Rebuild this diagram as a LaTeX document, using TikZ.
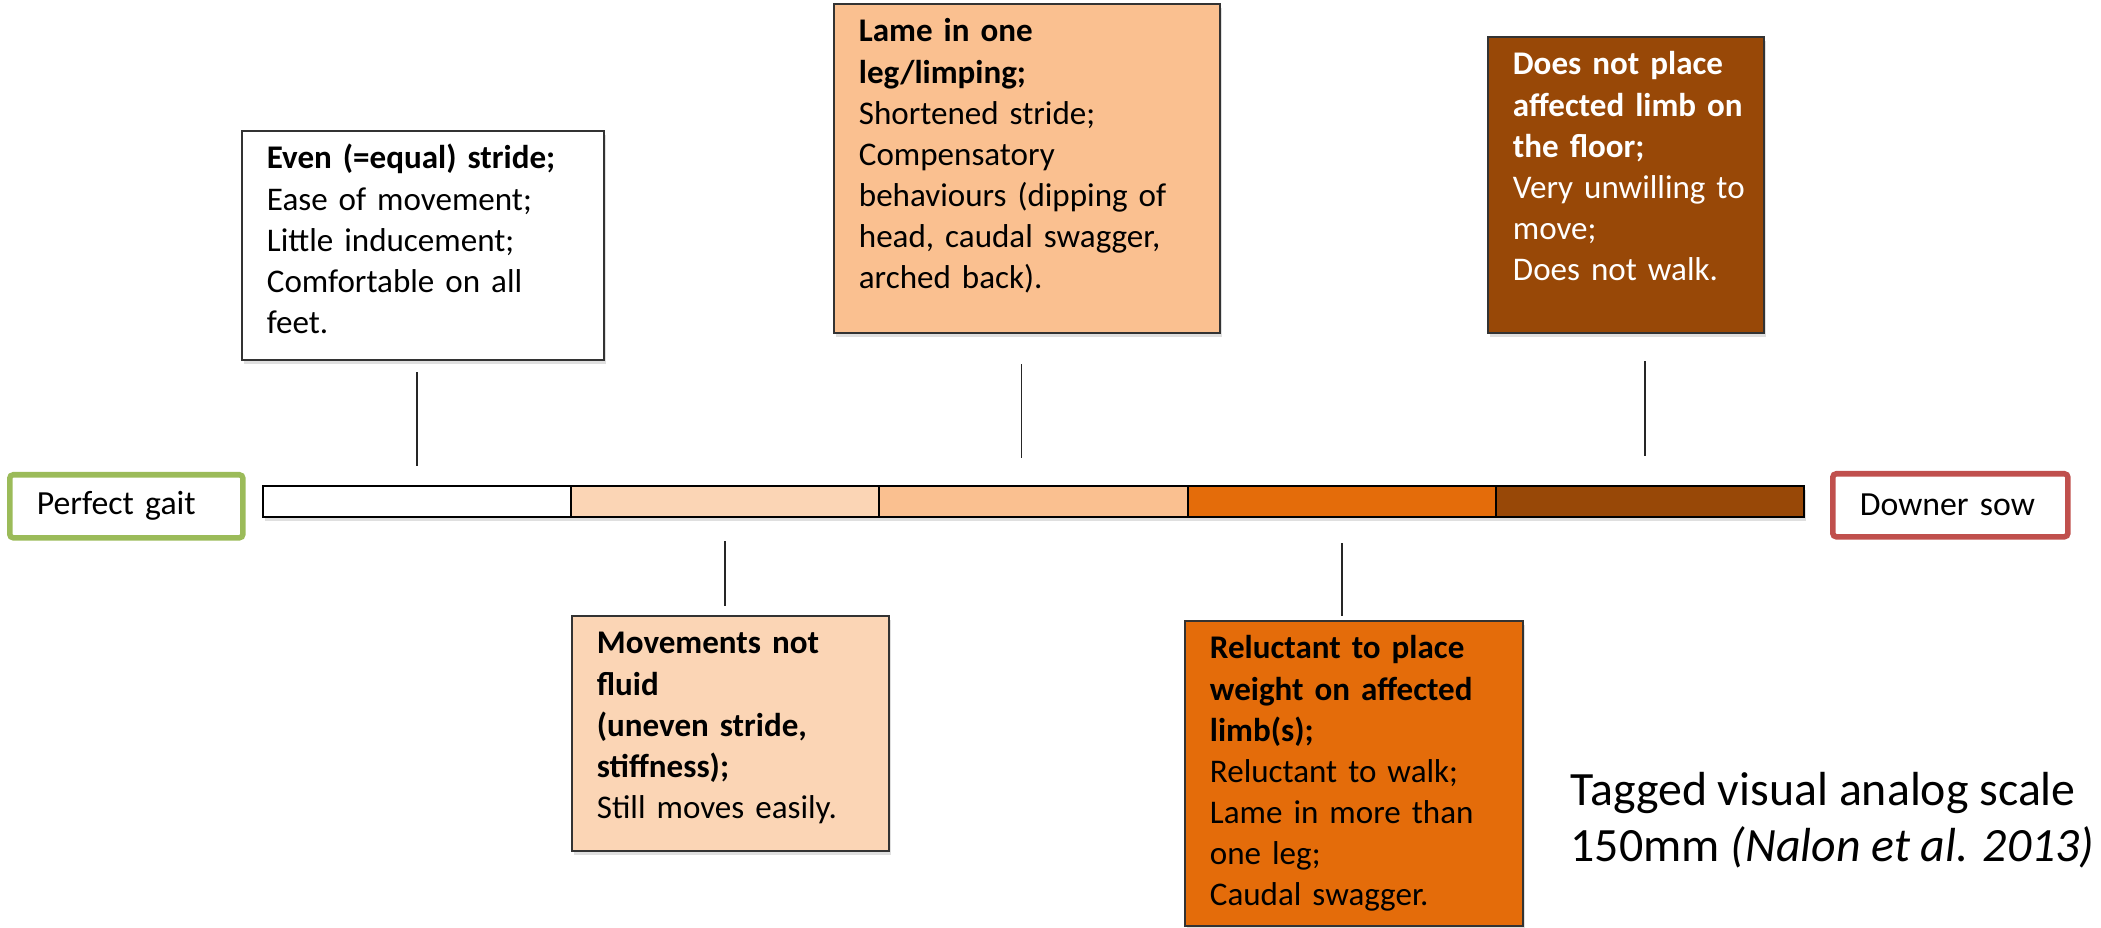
\documentclass[tikz,border=0pt]{standalone}
\usepackage{fontspec}
\setmainfont{Carlito}
\usetikzlibrary{positioning,shadows}
\definecolor{gaitgreen}{HTML}{9BBB59}
\definecolor{sowred}{HTML}{C0504D}
\definecolor{scoreA}{HTML}{FFFFFF}
\definecolor{scoreB}{HTML}{FBD5B5}
\definecolor{scoreC}{HTML}{FAC090}
\definecolor{scoreD}{HTML}{E46C0A}
\definecolor{scoreE}{HTML}{984807}

\begin{document}
\begin{tikzpicture}[x=0.01cm,y=-0.01cm,
  card/.style={draw=black!80,line width=0.5pt,anchor=north west,align=left,inner xsep=0.25cm,inner ysep=0pt,
    text height=0.38cm,font=\fontsize{9.4}{11.7}\selectfont,
    drop shadow={shadow xshift=0.02cm,shadow yshift=-0.04cm,opacity=0.25}},
  seg/.style={draw=black,line width=0.6pt,minimum width=3.08cm,minimum height=0.31cm,inner sep=0pt,outer sep=0pt,
    drop shadow={shadow xshift=0.02cm,shadow yshift=-0.04cm,opacity=0.25}},
  endbox/.style={anchor=north west,align=left,inner xsep=0.27cm,minimum height=0.63cm,rounded corners=1pt,
    line width=0.055cm,font=\fontsize{9.6}{12}\selectfont},
  tick/.style={black!85,line width=0.5pt}]
\useasboundingbox (0,0) rectangle (2101,928);

\node[seg,fill=scoreA,anchor=north west] (s1) at (263,486) {};
\node[seg,fill=scoreB,right=0pt of s1] (s2) {};
\node[seg,fill=scoreC,right=0pt of s2] (s3) {};
\node[seg,fill=scoreD,right=0pt of s3] (s4) {};
\node[seg,fill=scoreE,right=0pt of s4] (s5) {};

\node[endbox,draw=gaitgreen,text width=1.79cm] (perfect) at (7,472) {\mbox{Perfect gait}};
\node[endbox,draw=sowred,text width=1.81cm] (downer) at (1830,471) {\mbox{Downer sow}};

\node[card,fill=white,text width=3.12cm,text depth=1.91cm] (even) at (241,130)
  {\textbf{Even (=equal) stride;}\\Ease of movement;\\Little inducement;\\Comfortable on all\\feet.};
\node[card,fill=scoreB,text width=2.67cm,text depth=1.97cm] (fluid) at (571,615)
  {\textbf{Movements not}\\\textbf{fluid}\\\textbf{(uneven stride,}\\\textbf{stiffness);}\\Still moves easily.};
\node[card,fill=scoreC,text width=3.36cm,text depth=2.91cm] (lame) at (833,3)
  {\textbf{Lame in one}\\\textbf{leg/limping;}\\Shortened stride;\\Compensatory\\\mbox{behaviours (dipping of}\\\mbox{head, caudal swagger,}\\arched back).};
\node[card,fill=scoreD,text width=2.88cm,text depth=2.67cm] (reluctant) at (1184,620)
  {\textbf{\mbox{Reluctant to place}}\\\textbf{\mbox{weight on affected}}\\\textbf{limb(s);}\\Reluctant to walk;\\\mbox{Lame in more than}\\one leg;\\Caudal swagger.};
\node[card,fill=scoreE,text=white,text width=2.26cm,text depth=2.58cm] (downlimb) at (1487,36)
  {\textbf{\mbox{Does not place}}\\\textbf{\mbox{affected limb on}}\\\textbf{the floor;}\\\mbox{Very unwilling to}\\move;\\Does not walk.};

\draw[tick,shorten <=0.20cm,shorten >=0.11cm] (s1.north) -- (s1.north |- even.south);
\draw[tick,shorten <=0.24cm,shorten >=0.09cm] (s2.south) -- (s2.south |- fluid.north);
\draw[tick,shorten <=0.28cm,shorten >=0.30cm] ([xshift=-0.12cm]s3.north) -- ([xshift=-0.12cm]s3.north |- lame.south);
\draw[tick,shorten <=0.26cm,shorten >=0.04cm] (s4.south) -- (s4.south |- reluctant.north);
\draw[tick,shorten <=0.30cm,shorten >=0.27cm] ([xshift=-0.05cm]s5.north) -- ([xshift=-0.05cm]s5.north |- downlimb.south);

\node[anchor=north west,inner sep=0pt,align=left,font=\fontsize{13.6}{15.8}\selectfont] (caption) at (1570,772)
  {Tagged visual analog scale\\150mm \textit{(Nalon et al. 2013)}};
\end{tikzpicture}
\end{document}
